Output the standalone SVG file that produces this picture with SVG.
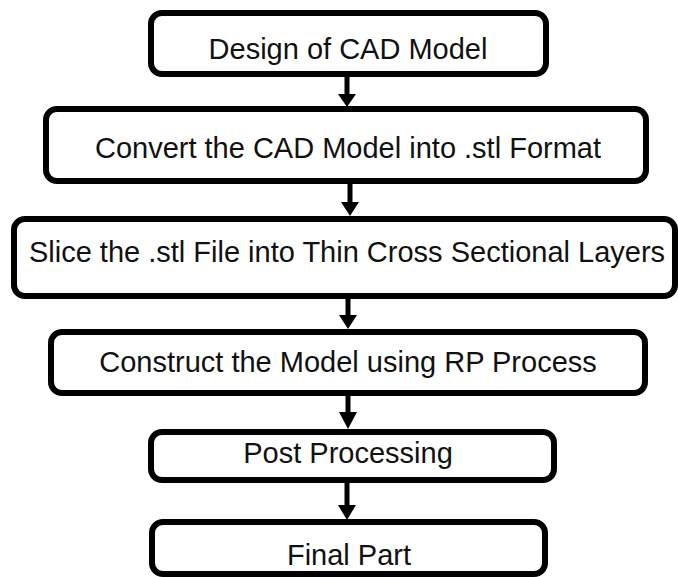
<svg xmlns="http://www.w3.org/2000/svg" width="678" height="577" viewBox="0 0 678 577">
  <defs>
    <style>
      .box { fill: #ffffff; stroke: #000000; stroke-width: 6; }
      .label { font-family: "Liberation Sans", Arial, sans-serif; font-size: 29px; fill: #111111; text-anchor: middle; }
      .shaft { stroke: #000000; stroke-width: 5; fill: none; }
      .head { fill: #000000; }
    </style>
  </defs>
  <rect width="678" height="577" fill="#ffffff"/>

  <g id="connectors">
    <line class="shaft" x1="347" y1="76" x2="347" y2="96"/>
    <polygon class="head" points="338,94 356,94 347,107"/>
    <line class="shaft" x1="350" y1="183" x2="350" y2="203"/>
    <polygon class="head" points="341,202 359,202 350,216"/>
    <line class="shaft" x1="348" y1="297" x2="348" y2="317"/>
    <polygon class="head" points="339,315 357,315 348,329"/>
    <line class="shaft" x1="348" y1="395" x2="348" y2="414"/>
    <polygon class="head" points="339,412 357,412 348,429"/>
    <line class="shaft" x1="347" y1="482" x2="347" y2="507"/>
    <polygon class="head" points="338,505 356,505 347,520"/>
  </g>

  <g id="design">
    <rect class="box" x="151" y="13" width="395" height="61" rx="11"/>
    <text class="label" x="348" y="59">Design of CAD Model</text>
  </g>
  <g id="convert">
    <rect class="box" x="46" y="109" width="600" height="72" rx="11"/>
    <text class="label" x="348" y="158">Convert the CAD Model into .stl Format</text>
  </g>
  <g id="slice">
    <rect class="box" x="14" y="219" width="661" height="77" rx="11"/>
    <text class="label" x="347" y="262">Slice the .stl File into Thin Cross Sectional Layers</text>
  </g>
  <g id="construct">
    <rect class="box" x="51" y="332" width="594" height="61" rx="11"/>
    <text class="label" x="348" y="372">Construct the Model using RP Process</text>
  </g>
  <g id="post">
    <rect class="box" x="151" y="432" width="403" height="48" rx="11"/>
    <text class="label" x="348" y="463">Post Processing</text>
  </g>
  <g id="final">
    <rect class="box" x="152" y="522" width="393" height="52" rx="11"/>
    <text class="label" x="349" y="565">Final Part</text>
  </g>
</svg>
